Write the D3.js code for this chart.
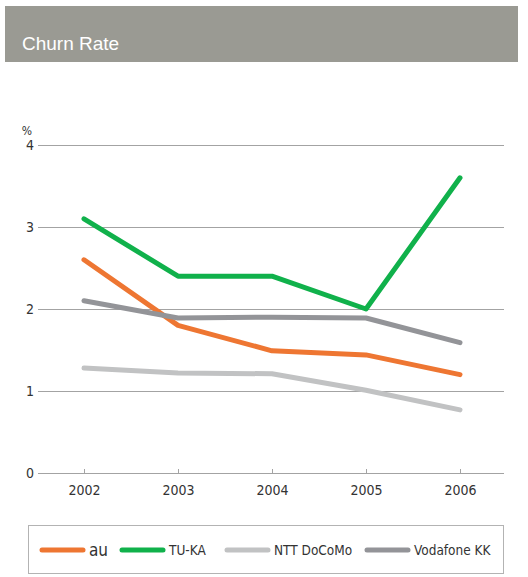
<!DOCTYPE html>
<html>
<head>
<meta charset="utf-8">
<script src="https://cdn.jsdelivr.net/npm/d3@7"></script>
<style>
  body { margin: 0; background: #fff; }
  svg { display: block; }
</style>
</head>
<body>
<svg width="528" height="577"></svg>
<script>
// data
const years = ['2002', '2003', '2004', '2005', '2006'];
const au = [2.6, 1.8, 1.49, 1.44, 1.2];
const tuka = [3.1, 2.4, 2.4, 2.0, 3.6];
const docomo = [1.28, 1.22, 1.21, 1.01, 0.77];
const vodafone = [2.1, 1.89, 1.9, 1.89, 1.59];
const yTicks = [0, 1, 2, 3, 4];

const series = [
    { name: 'au', values: au, color: '#ee7632' },
    { name: 'TU-KA', values: tuka, color: '#10b14b' },
    { name: 'NTT DoCoMo', values: docomo, color: '#c1c2c3' },
    { name: 'Vodafone KK', values: vodafone, color: '#939498' }
];

const svg = d3.select('svg');
const font = '"DejaVu Sans Condensed", "Liberation Sans Narrow", sans-serif';

// header bar
svg.append('rect')
    .attr('x', 5).attr('y', 6)
    .attr('width', 513).attr('height', 56)
    .attr('fill', '#9a9a93');
svg.append('text')
    .attr('x', 22).attr('y', 50)
    .attr('fill', '#fff')
    .style('font-family', '"Liberation Sans", Arial, sans-serif')
    .style('font-size', '19px')
    .text('Churn Rate');

const plot = { left: 38, right: 504, top: 145, bottom: 473 };

const x = d3.scalePoint()
    .domain(years)
    .range([84, 460]);

const y = d3.scaleLinear()
    .domain([0, 4])
    .range([plot.bottom, plot.top]);

// gridlines + y labels
const gy = svg.append('g')
    .attr('transform', `translate(${plot.left},0)`)
    .call(d3.axisRight(y).tickValues(yTicks).tickSize(plot.right - plot.left).tickFormat(d3.format('d')));
gy.select('.domain').remove();
gy.selectAll('.tick line').attr('stroke', '#a3a3a3').attr('stroke-width', 1);
gy.selectAll('.tick text')
    .attr('x', -4).attr('text-anchor', 'end').attr('dy', '0.35em')
    .attr('fill', '#333')
    .style('font-family', font).style('font-size', '14px');

svg.append('text')
    .attr('x', 32).attr('y', 135)
    .attr('text-anchor', 'end')
    .attr('fill', '#333')
    .style('font-family', font).style('font-size', '12px')
    .text('%');

// x axis ticks
const gx = svg.append('g')
    .attr('transform', `translate(0,${plot.bottom})`)
    .call(d3.axisBottom(x).tickSize(-4).tickPadding(12));
gx.select('.domain').remove();
gx.selectAll('.tick line').attr('stroke', '#a3a3a3');
gx.selectAll('.tick text')
    .attr('fill', '#333')
    .style('font-family', font).style('font-size', '14px');

// lines
const line = d3.line()
    .x((d, i) => x(years[i]))
    .y(d => y(d));

svg.append('g')
    .selectAll('path')
    .data(series)
    .enter().append('path')
    .attr('d', d => line(d.values))
    .attr('fill', 'none')
    .attr('stroke', d => d.color)
    .attr('stroke-width', 5)
    .attr('stroke-linecap', 'round')
    .attr('stroke-linejoin', 'round');

// legend
svg.append('rect')
    .attr('x', 28.5).attr('y', 525.5)
    .attr('width', 475).attr('height', 48)
    .attr('fill', 'none')
    .attr('stroke', '#b3b3b3');

const legendX = [42, 122, 227, 367];
const lg = svg.append('g')
    .selectAll('g')
    .data(series)
    .enter().append('g')
    .attr('transform', (d, i) => `translate(${legendX[i]},550)`);

lg.append('line')
    .attr('x1', 0).attr('x2', 41)
    .attr('stroke', d => d.color)
    .attr('stroke-width', 5)
    .attr('stroke-linecap', 'round');

lg.append('text')
    .attr('x', 47)
    .attr('dy', '0.35em')
    .attr('fill', '#333')
    .style('font-family', font)
    .style('font-size', (d, i) => i === 0 ? '17px' : '13.5px')
    .text(d => d.name);
</script>
</body>
</html>
